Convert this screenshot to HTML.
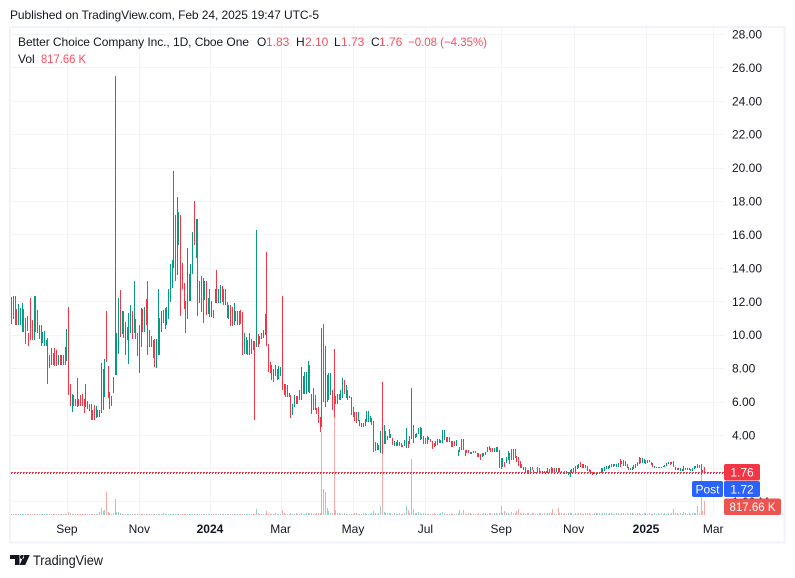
<!DOCTYPE html>
<html lang="en">
<head>
<meta charset="utf-8">
<title>Better Choice Company Inc. chart</title>
<style>
html,body{margin:0;padding:0;background:#fff;width:795px;height:578px;overflow:hidden}
svg{display:block}
text{font-family:"Liberation Sans",sans-serif;font-size:12px;fill:#131722}
.red{fill:#F7525F}
</style>
</head>
<body>
<svg id="chart" xmlns="http://www.w3.org/2000/svg" width="795" height="578" viewBox="0 0 795 578">
<rect x="0" y="0" width="795" height="578" fill="#ffffff"/>
<text x="10" y="19" textLength="309" lengthAdjust="spacing">Published on TradingView.com, Feb 24, 2025 19:47 UTC-5</text>
<rect x="10" y="27" width="774.5" height="515.5" fill="none" stroke="#f0f3fa" stroke-width="2"/>
<g id="grid"></g>
<g id="volumes"></g>
<g id="candles"></g>
<line x1="11" x2="724" y1="473.5" y2="473.5" stroke="#2962FF" stroke-width="1" stroke-dasharray="1 2"/>
<line x1="11" x2="724" y1="472.5" y2="472.5" stroke="#F23645" stroke-width="1" stroke-dasharray="2 1"/>
<g id="price-axis"></g>
<g id="time-axis"></g>
<g>
<text x="18" y="46" textLength="231" lengthAdjust="spacing">Better Choice Company Inc., 1D, Cboe One</text>
<text x="257" y="46">O</text><text class="red" x="266" y="46">1.83</text>
<text x="296" y="46">H</text><text class="red" x="305" y="46">2.10</text>
<text x="334" y="46">L</text><text class="red" x="341" y="46">1.73</text>
<text x="371" y="46">C</text><text class="red" x="379" y="46">1.76</text>
<text class="red" x="408" y="46" textLength="79" lengthAdjust="spacingAndGlyphs">−0.08 (−4.35%)</text>
<text x="18" y="63">Vol</text>
<text class="red" x="41" y="63" textLength="45" lengthAdjust="spacingAndGlyphs">817.66 K</text>
</g>
<g>
<rect x="692" y="481" width="31" height="16" rx="2" fill="#2962FF"/>
<text x="707.5" y="493.5" text-anchor="middle" style="fill:#fff">Post</text>
</g>
<g>
<rect x="724" y="464" width="36" height="16.5" rx="2" fill="#F23645"/>
<text x="742" y="476.5" text-anchor="middle" style="fill:#fff">1.76</text>
</g>
<g>
<rect x="724" y="481" width="36" height="16" rx="2" fill="#2962FF"/>
<text x="742" y="493.5" text-anchor="middle" style="fill:#fff">1.72</text>
</g>
<g>
<rect x="724" y="498.5" width="57" height="16.5" rx="2" fill="#EF5350"/>
<text x="752.5" y="511" text-anchor="middle" style="fill:#fff" textLength="46" lengthAdjust="spacingAndGlyphs">817.66 K</text>
</g>
<g>
<path d="M10 555h9.5v10h-4.5v-6h-5zM24 555h5.8l-4.6 10h-5.6zM20 557a2 2 0 1 0 4 0a2 2 0 1 0-4 0z" fill="#131722"/>
<text x="33" y="565" style="font-size:14px" textLength="70" lengthAdjust="spacingAndGlyphs">TradingView</text>
</g>
</svg>
<script>
const priceTicks = [28,26,24,22,20,18,16,14,12,10,8,6,4,2];
const timeTickBars = [32,74,115,156,198,240,284,326,368,407];
const timeTickLabels = ["Sep","Nov","2024","Mar","May","Jul","Sep","Nov","2025","Mar"];
const timeTickBold = [false,false,true,false,false,false,false,false,true,false];
const volumeTicks = [1000];
const highs = [
12.24,12.34,12.34,11.56,11.86,11.62,11.92,11.56,11.02,11.14,
10.12,12.22,10.9,12.34,12.34,11.5,10.6,10.6,10.18,10.24,
9.7,9.82,8.8,9.22,8.92,9.22,9.1,8.8,8.8,8.8,
8.8,9.28,10.36,11.68,7.06,6.46,6.4,6.16,7.42,6.16,
6.4,6.46,6.16,7.06,6.04,5.86,5.86,5.5,5.8,5.74,
5.5,5.5,8.32,7.96,8.56,11.44,8.14,6.58,6.34,7.48,
25.5,10.12,12.22,12.7,11.44,11.44,10.75,10.47,11.3,11.79,
11.44,13.22,10.95,10.11,10.6,11.61,11.55,11.67,12.15,13.22,
10.29,9.93,9.69,9.76,9.76,12.75,11.0,11.43,11.49,11.61,
11.67,12.75,14.24,14.48,19.81,17.18,18.25,17.36,17.18,14.3,
13.1,12.03,15.2,13.64,14.24,16.16,18.0,16.94,16.94,13.22,
13.52,13.4,13.22,13.22,12.2,12.75,12.03,11.49,12.75,13.88,
12.75,12.99,12.93,12.75,12.75,11.97,11.79,11.79,11.67,11.91,
11.43,11.43,11.43,11.49,11.37,10.11,9.87,9.69,10.11,9.75,
9.63,9.63,16.28,10.05,9.93,10.11,10.29,11.25,14.96,9.45,
8.37,8.19,7.97,8.19,7.95,8.13,8.07,12.3,7.05,7.05,
7.0,6.5,6.4,5.86,6.4,6.34,6.34,6.7,8.07,7.53,
7.77,7.77,8.43,8.19,6.46,6.81,6.4,5.62,5.68,5.08,
10.41,10.65,9.33,7.6,7.71,7.71,6.7,9.15,6.34,6.46,
6.46,6.7,7.41,7.29,6.99,6.7,6.34,6.28,5.68,5.38,
5.38,5.38,4.9,4.72,4.72,4.96,5.44,5.44,5.14,5.02,
4.84,3.58,3.52,3.4,4.24,7.17,4.6,4.24,3.92,4.34,
4.06,3.82,3.64,3.6,3.7,3.58,3.5,3.4,3.7,4.42,
3.64,3.94,6.81,4.6,4.06,4.1,4.42,4.48,4.42,3.94,
3.82,3.94,3.88,3.76,3.64,3.54,3.64,3.76,3.76,3.7,
4.28,4.3,3.9,3.9,3.9,3.64,3.64,3.64,3.7,3.1,
3.3,3.76,3.76,3.1,3.1,3.1,3.0,3.0,3.04,3.04,
2.9,2.9,2.84,2.9,2.9,3.0,3.3,3.36,3.24,3.2,
3.24,3.3,3.26,3.1,2.6,2.64,2.4,2.7,3.04,2.9,
3.16,3.16,3.16,2.76,2.7,2.44,2.24,2.1,2.1,1.9,
1.88,2.1,2.1,1.9,1.8,2.06,2.0,1.86,1.84,1.82,
1.84,2.0,1.94,2.1,2.04,2.0,2.0,2.0,2.0,1.84,
1.8,1.84,1.82,1.78,1.9,1.96,2.04,2.16,2.2,2.26,
2.4,2.26,2.24,2.2,2.16,1.96,1.88,1.8,1.8,1.78,
1.8,1.76,2.02,2.04,2.08,2.14,2.16,2.18,2.24,2.28,
2.26,2.28,2.3,2.56,2.44,2.5,2.44,2.24,2.1,2.04,
2.06,2.2,2.28,2.4,2.68,2.64,2.6,2.56,2.48,2.52,
2.52,2.36,2.3,2.16,2.1,2.1,2.08,2.08,2.16,2.2,
2.3,2.4,2.36,2.4,2.44,2.1,2.04,2.0,2.0,1.96,
2.12,2.04,2.04,2.0,1.98,2.0,2.14,2.16,2.24,2.22,2.24,1.9,2.1];
const lows = [
10.66,10.96,10.6,10.6,10.6,10.6,10.18,10.14,9.46,10.2,
9.34,9.7,9.7,9.7,10.14,10.12,9.76,9.34,9.52,9.34,
9.34,7.06,8.02,8.2,8.2,8.14,8.14,8.2,8.2,8.2,
8.2,8.2,8.44,6.4,5.74,5.38,5.74,5.74,5.68,5.74,
5.74,5.74,5.32,5.68,5.56,5.44,4.9,4.9,4.9,5.02,
5.1,5.08,5.32,5.5,6.28,8.38,6.22,5.56,5.74,6.5,
7.6,7.6,8.86,9.87,10.06,9.81,8.79,9.69,8.26,10.11,
9.76,10.11,9.75,8.73,7.72,9.27,10.17,10.17,10.6,8.79,
9.27,9.27,8.61,8.08,8.02,8.8,8.8,10.17,10.71,10.35,
10.59,10.95,11.97,12.81,14.0,13.22,13.58,15.38,11.13,12.75,
11.55,10.11,10.95,12.03,12.03,13.64,15.38,14.6,11.13,11.91,
11.37,10.71,12.09,11.19,11.25,11.07,11.07,11.01,11.91,11.91,
11.91,11.91,11.97,11.79,11.79,11.01,10.95,10.53,10.53,10.59,
10.83,10.59,10.59,10.65,8.79,8.85,8.85,8.79,8.79,8.85,
9.09,4.9,9.27,9.27,9.45,9.75,9.81,9.99,9.3,7.77,
7.73,7.29,7.17,7.53,7.29,7.33,7.53,6.7,6.4,6.3,
6.3,6.26,5.02,5.2,5.68,5.86,5.86,6.1,6.1,6.46,
6.46,6.46,6.58,6.5,5.26,5.5,5.5,5.26,4.72,4.18,
4.48,6.0,5.68,6.0,6.1,6.4,5.5,5.08,5.86,5.86,
6.1,6.1,6.22,6.46,6.22,6.1,6.22,5.2,5.08,4.84,
4.72,4.84,4.54,4.48,4.48,4.54,4.78,4.78,4.78,4.6,
2.98,3.04,3.1,3.1,2.92,2.86,3.46,3.46,3.68,3.82,
3.82,3.4,3.34,3.34,3.34,3.34,3.3,3.28,3.34,3.22,
3.22,3.46,3.76,3.52,3.82,3.86,4.06,3.7,3.76,3.46,
3.46,3.46,3.7,3.58,3.16,3.26,3.34,3.4,3.5,3.5,
3.5,3.7,3.6,3.6,3.6,3.3,3.3,3.36,3.36,2.76,
3.0,3.1,3.1,2.76,2.9,2.9,2.84,2.84,2.9,2.9,
2.7,2.7,2.5,2.7,2.76,2.8,3.0,3.1,3.0,2.96,
3.0,3.0,3.0,2.0,1.96,2.1,2.1,2.3,2.5,2.24,
2.5,2.5,2.6,2.4,2.16,2.0,2.0,1.9,1.7,1.7,
1.68,1.7,1.9,1.7,1.7,1.7,1.7,1.7,1.68,1.7,
1.7,1.7,1.7,1.8,1.7,1.8,1.8,1.7,1.76,1.74,
1.66,1.64,1.66,1.6,1.5,1.7,1.76,1.8,1.96,2.0,
2.1,2.0,2.04,2.0,1.84,1.76,1.72,1.6,1.64,1.62,
1.64,1.64,1.7,1.8,1.84,1.96,1.96,2.0,2.1,2.08,
2.12,2.08,2.1,2.08,2.24,2.16,2.12,2.0,1.9,1.9,
1.92,1.96,2.04,2.12,2.24,2.32,2.32,2.34,2.28,2.32,
2.36,2.2,2.08,2.0,2.0,2.0,2.0,2.0,2.08,2.08,
2.16,2.24,2.2,2.24,2.1,1.88,1.88,1.88,1.84,1.84,
1.84,1.88,1.88,1.88,1.84,1.84,1.96,2.0,2.0,2.0,1.6,1.7,1.73];
const opens = [
12.0,12.3,12.0,11.4,10.8,10.9,10.6,11.4,10.9,11.0,
10.0,11.5,10.8,9.8,12.2,11.3,9.9,9.6,9.7,9.5,
9.4,9.7,8.2,8.4,8.8,9.0,8.9,8.3,8.7,8.7,
8.7,8.3,8.6,10.3,6.9,5.7,6.2,6.1,5.8,6.1,
6.2,6.3,6.1,5.8,5.9,5.8,5.8,5.4,5.6,5.2,
5.4,5.2,5.4,5.8,6.5,8.6,8.0,5.7,5.8,6.6,
7.8,7.8,9.1,12.4,10.2,11.3,9.0,10.3,8.5,10.3,
11.3,10.3,10.8,10.0,8.0,9.5,11.4,10.4,12.0,12.9,
10.2,9.8,9.6,9.6,8.2,9.0,9.0,10.3,11.4,10.5,
10.7,11.1,12.2,13.0,14.2,17.0,13.8,15.5,17.0,14.1,
12.9,11.9,11.1,13.5,12.2,13.8,17.8,14.8,16.7,12.0,
13.4,10.9,12.2,13.1,11.4,12.6,11.2,11.4,12.0,13.7,
12.0,12.0,12.8,12.6,12.6,11.9,11.0,11.7,11.6,10.7,
10.9,11.3,11.3,11.4,11.3,9.0,9.0,9.6,8.9,9.7,
9.6,9.5,9.4,10.0,9.5,9.8,9.9,10.1,10.6,9.4,
8.3,8.1,7.9,7.6,7.9,7.4,7.6,7.7,7.0,7.0,
6.4,6.45,6.3,5.3,5.8,6.3,6.3,6.6,6.2,6.5,
6.5,6.5,6.7,8.1,5.3,6.7,6.3,5.6,5.6,5.0,
4.6,10.3,5.9,6.1,6.2,6.5,6.6,6.5,6.3,5.9,
6.4,6.2,6.3,7.2,6.3,6.6,6.33,6.2,5.6,5.3,
5.3,4.9,4.6,4.5,4.5,4.6,4.8,4.8,4.8,5.0,
4.8,3.5,3.2,3.2,3.0,3.2,3.6,4.2,3.7,3.9,
3.85,3.8,3.4,3.4,3.4,3.55,3.48,3.38,3.4,3.3,
3.6,3.5,3.8,4.5,3.85,3.9,4.1,3.8,4.4,3.9,
3.8,3.5,3.72,3.75,3.6,3.5,3.4,3.75,3.7,3.55,
3.55,3.8,3.85,3.85,3.85,3.6,3.6,3.6,3.4,2.8,
3.05,3.7,3.7,3.05,3.05,3.05,2.86,2.98,2.92,2.92,
2.88,2.88,2.8,2.72,2.78,2.82,3.02,3.12,3.2,3.15,
3.02,3.02,3.22,3.05,2.55,2.15,2.38,2.35,2.55,2.85,
3.1,3.1,3.1,2.7,2.65,2.4,2.2,2.08,1.75,1.72,
1.86,1.72,2.08,1.88,1.72,2.0,1.95,1.84,1.7,1.8,
1.72,1.72,1.72,1.82,2.0,1.98,1.82,1.98,1.78,1.82,
1.78,1.82,1.8,1.62,1.55,1.72,1.78,1.82,1.98,2.02,
2.36,2.22,2.06,2.18,2.12,1.94,1.86,1.78,1.66,1.64,
1.78,1.74,1.72,1.82,1.86,1.98,1.98,2.02,2.12,2.1,
2.14,2.1,2.12,2.5,2.26,2.46,2.4,2.2,2.08,1.92,
1.94,1.98,2.06,2.14,2.28,2.6,2.34,2.36,2.46,2.34,
2.5,2.34,2.26,2.02,2.02,2.02,2.02,2.06,2.1,2.1,
2.18,2.26,2.34,2.26,2.4,2.08,2.02,1.98,1.86,1.86,
1.86,2.02,1.9,1.98,1.86,1.86,1.98,2.02,2.02,2.2,2.2,1.88,1.83];
const closes = [
11.1,11.1,10.7,10.7,11.7,11.4,11.7,10.3,9.8,10.4,
9.5,9.8,9.8,12.2,10.4,10.3,10.5,10.5,10.1,9.8,
9.6,8.2,8.7,9.1,8.4,8.4,8.3,8.6,8.4,8.4,
8.4,9.1,10.2,7.0,5.8,6.3,5.8,5.8,6.9,5.8,
5.8,5.8,5.5,6.9,5.7,5.5,5.0,5.0,5.0,5.6,
5.2,5.4,8.1,7.7,8.3,8.45,6.4,6.4,6.2,7.3,
10.0,9.9,12.0,10.1,11.3,10.0,10.5,9.8,11.0,11.6,
10.0,13.0,9.9,8.9,10.4,11.4,10.4,11.5,10.8,9.0,
9.4,9.4,8.8,8.3,9.6,12.5,10.8,11.3,10.8,11.5,
11.5,12.6,14.0,14.3,19.5,13.4,18.0,17.2,11.3,12.9,
11.7,10.3,15.0,12.2,14.0,16.0,15.5,16.7,11.3,13.0,
11.5,13.2,13.1,11.3,12.1,11.2,11.9,11.1,12.6,12.0,
12.6,12.9,12.1,11.9,11.9,11.1,11.7,10.7,10.6,11.8,
11.3,10.7,10.7,10.7,8.9,10.0,9.7,8.9,10.0,8.9,
9.2,9.0,9.9,9.4,9.8,10.0,10.2,11.0,9.4,7.9,
7.8,7.4,7.3,8.1,7.4,8.0,8.0,6.8,6.5,6.4,
6.9,6.3,5.1,5.8,6.3,5.9,5.9,6.2,7.9,7.4,
7.6,7.6,8.3,6.6,6.4,5.6,5.6,5.3,4.8,4.3,
6.5,6.2,8.8,7.4,7.5,7.5,5.6,6.0,5.9,6.4,
6.2,6.6,7.3,6.6,6.9,6.2,6.25,5.3,5.1,4.9,
4.8,5.3,4.8,4.7,4.7,4.9,5.4,5.4,5.1,4.7,
3.1,3.1,3.4,3.3,4.1,2.95,4.5,3.6,3.9,4.3,
4.0,3.5,3.6,3.55,3.65,3.4,3.35,3.3,3.65,4.3,
3.3,3.9,4.5,3.6,4.0,4.05,4.4,4.4,3.8,3.5,
3.5,3.9,3.85,3.6,3.2,3.3,3.6,3.45,3.55,3.65,
4.2,4.25,3.65,3.65,3.65,3.35,3.35,3.4,3.65,3.05,
3.25,3.15,3.15,2.8,2.92,2.92,2.98,2.86,3.02,3.02,
2.72,2.72,2.55,2.88,2.88,2.98,3.28,3.32,3.02,3.0,
3.2,3.25,3.02,2.05,2.0,2.6,2.15,2.65,3.0,2.3,
2.55,2.55,2.65,2.45,2.2,2.05,2.03,1.92,2.05,1.88,
1.7,2.05,1.92,1.72,1.78,1.72,1.72,1.72,1.82,1.72,
1.82,1.98,1.92,2.08,1.72,1.82,1.98,1.72,1.98,1.76,
1.68,1.66,1.68,1.76,1.85,1.94,2.0,2.12,2.18,2.22,
2.14,2.04,2.2,2.02,1.88,1.78,1.74,1.64,1.76,1.76,
1.66,1.66,1.98,2.0,2.04,2.1,2.12,2.14,2.2,2.24,
2.22,2.24,2.26,2.12,2.4,2.2,2.16,2.04,1.94,2.02,
2.04,2.16,2.24,2.36,2.62,2.36,2.56,2.52,2.3,2.48,
2.38,2.22,2.12,2.14,2.08,2.08,2.06,2.02,2.14,2.18,
2.28,2.38,2.22,2.36,2.14,1.92,1.9,1.9,1.98,1.94,
2.08,1.9,2.02,1.9,1.96,1.98,2.12,2.14,2.2,2.04,1.65,1.72,1.76];
const volumes = [
60,50,60,70,50,60,50,60,70,60,
60,50,60,70,60,50,60,70,60,50,
60,70,60,50,60,60,70,50,60,60,
60,70,60,200,120,70,60,50,60,60,
60,50,60,70,60,60,50,60,60,70,
70,160,400,220,280,1360,160,120,70,120,
940,160,160,90,80,70,60,70,60,60,
60,50,60,70,60,60,50,70,60,60,
70,60,60,50,80,70,60,60,90,70,
60,60,70,60,80,60,70,60,60,50,
60,60,70,50,60,60,70,80,60,60,
50,60,60,70,60,50,60,70,60,60,
60,70,60,50,60,70,60,60,50,60,
60,50,60,60,70,60,60,50,70,60,
60,60,340,90,60,70,60,60,220,80,
70,60,60,90,70,60,60,280,90,70,
60,60,120,70,60,110,70,60,90,70,
60,110,110,110,110,80,70,90,120,110,
4960,1540,1360,400,220,140,110,5860,280,140,
140,80,70,90,60,70,80,70,60,110,
90,70,60,80,90,110,70,80,60,110,
260,90,70,110,520,3700,160,110,90,100,
90,70,110,70,80,90,60,70,90,560,
300,110,3360,360,120,110,180,90,70,90,
110,70,60,80,70,90,60,70,80,90,
180,110,80,70,60,90,70,60,80,110,
300,90,300,80,70,110,90,60,70,80,
60,90,70,80,100,90,70,110,90,80,
90,110,70,90,560,90,240,110,90,70,
180,90,110,260,360,90,70,110,80,100,
90,70,110,90,80,60,100,90,70,110,
80,90,100,90,360,90,80,420,110,90,
70,100,80,90,110,100,80,90,70,100,
90,80,70,100,110,90,80,70,100,90,
90,100,70,90,110,100,80,110,90,70,
80,100,90,70,100,110,80,90,70,100,
90,70,80,100,90,70,80,90,100,70,
90,80,70,100,80,90,70,90,80,90,
70,100,80,90,360,110,90,70,90,80,
180,90,70,100,80,90,90,100,560,140,2700,240,817.66];

const svgNS = 'http://www.w3.org/2000/svg';
function xScale(i){ return 11.75 + i * 1.7235; }
function yScale(p){ return 435 - (p - 4) * 16.71; }
function vScale(k){ return k / 60; }
function mk(parent, tag){ const e = document.createElementNS(svgNS, tag); parent.appendChild(e); return e; }

const gridG = document.getElementById('grid');
priceTicks.forEach(function(p){
  const l = mk(gridG, 'rect');
  
  
  l.setAttribute('x', 11); l.setAttribute('width', 713);
  l.setAttribute('y', Math.round(yScale(p))); l.setAttribute('height', 1);
  l.setAttribute('fill', '#f2f4f8');
});
volumeTicks.forEach(function(k){
  const l = mk(gridG, 'rect');
  
  
  l.setAttribute('x', 11); l.setAttribute('width', 713);
  l.setAttribute('y', Math.round(515 - vScale(k) + 3)); l.setAttribute('height', 1);
  l.setAttribute('fill', '#f2f4f8');
});
timeTickBars.forEach(function(b){
  const l = mk(gridG, 'rect');
  
  
  l.setAttribute('x', Math.round(xScale(b))); l.setAttribute('width', 1);
  l.setAttribute('y', 28); l.setAttribute('height', 487);
  l.setAttribute('fill', '#f2f4f8');
});

const volG = document.getElementById('volumes');
volumes.forEach(function(v, i){
  const up = closes[i] >= opens[i];
  const h = Math.max(1, Math.round(vScale(v)));
  const r = mk(volG, 'rect');
  
  
  r.setAttribute('x', Math.floor(xScale(i))); r.setAttribute('width', 1);
  r.setAttribute('y', 515 - h); r.setAttribute('height', h);
  r.setAttribute('fill', up ? '#92d2cc' : '#f7a9a7');
});

const candleG = document.getElementById('candles');
opens.forEach(function(o, i){
  const up = closes[i] >= o;
  const col = up ? '#089981' : '#F23645';
  const x = Math.floor(xScale(i));
  const yH = Math.round(yScale(highs[i]));
  const yL = Math.round(yScale(lows[i]));
  const w = mk(candleG, 'rect');
  
  
  w.setAttribute('x', x); w.setAttribute('width', 1);
  w.setAttribute('y', yH); w.setAttribute('height', Math.max(1, yL - yH));
  w.setAttribute('fill', col);
  const yO = Math.round(yScale(Math.max(o, closes[i])));
  const yC = Math.round(yScale(Math.min(o, closes[i])));
  const b = mk(candleG, 'rect');
  
  
  b.setAttribute('x', x); b.setAttribute('width', 1);
  b.setAttribute('y', yO); b.setAttribute('height', Math.max(1, yC - yO));
  b.setAttribute('fill', col);
});

const priceAxis = document.getElementById('price-axis');
priceTicks.forEach(function(p){
  const t = mk(priceAxis, 'text');
  
  
  t.setAttribute('x', 732);
  t.setAttribute('y', yScale(p) + 4.5);
  t.textContent = p.toFixed(2);
});
const zeroLabel = mk(priceAxis, 'text');


zeroLabel.setAttribute('x', 732);
zeroLabel.setAttribute('y', 506);
zeroLabel.textContent = '1.00 M';

const timeAxis = document.getElementById('time-axis');
timeTickLabels.forEach(function(lab, k){
  const t = mk(timeAxis, 'text');
  
  
  t.setAttribute('x', xScale(timeTickBars[k])); t.setAttribute('text-anchor', 'middle');
  t.setAttribute('y', 533);
  if (timeTickBold[k]) t.setAttribute('font-weight', 'bold');
  t.textContent = lab;
});
</script>
</body>
</html>
